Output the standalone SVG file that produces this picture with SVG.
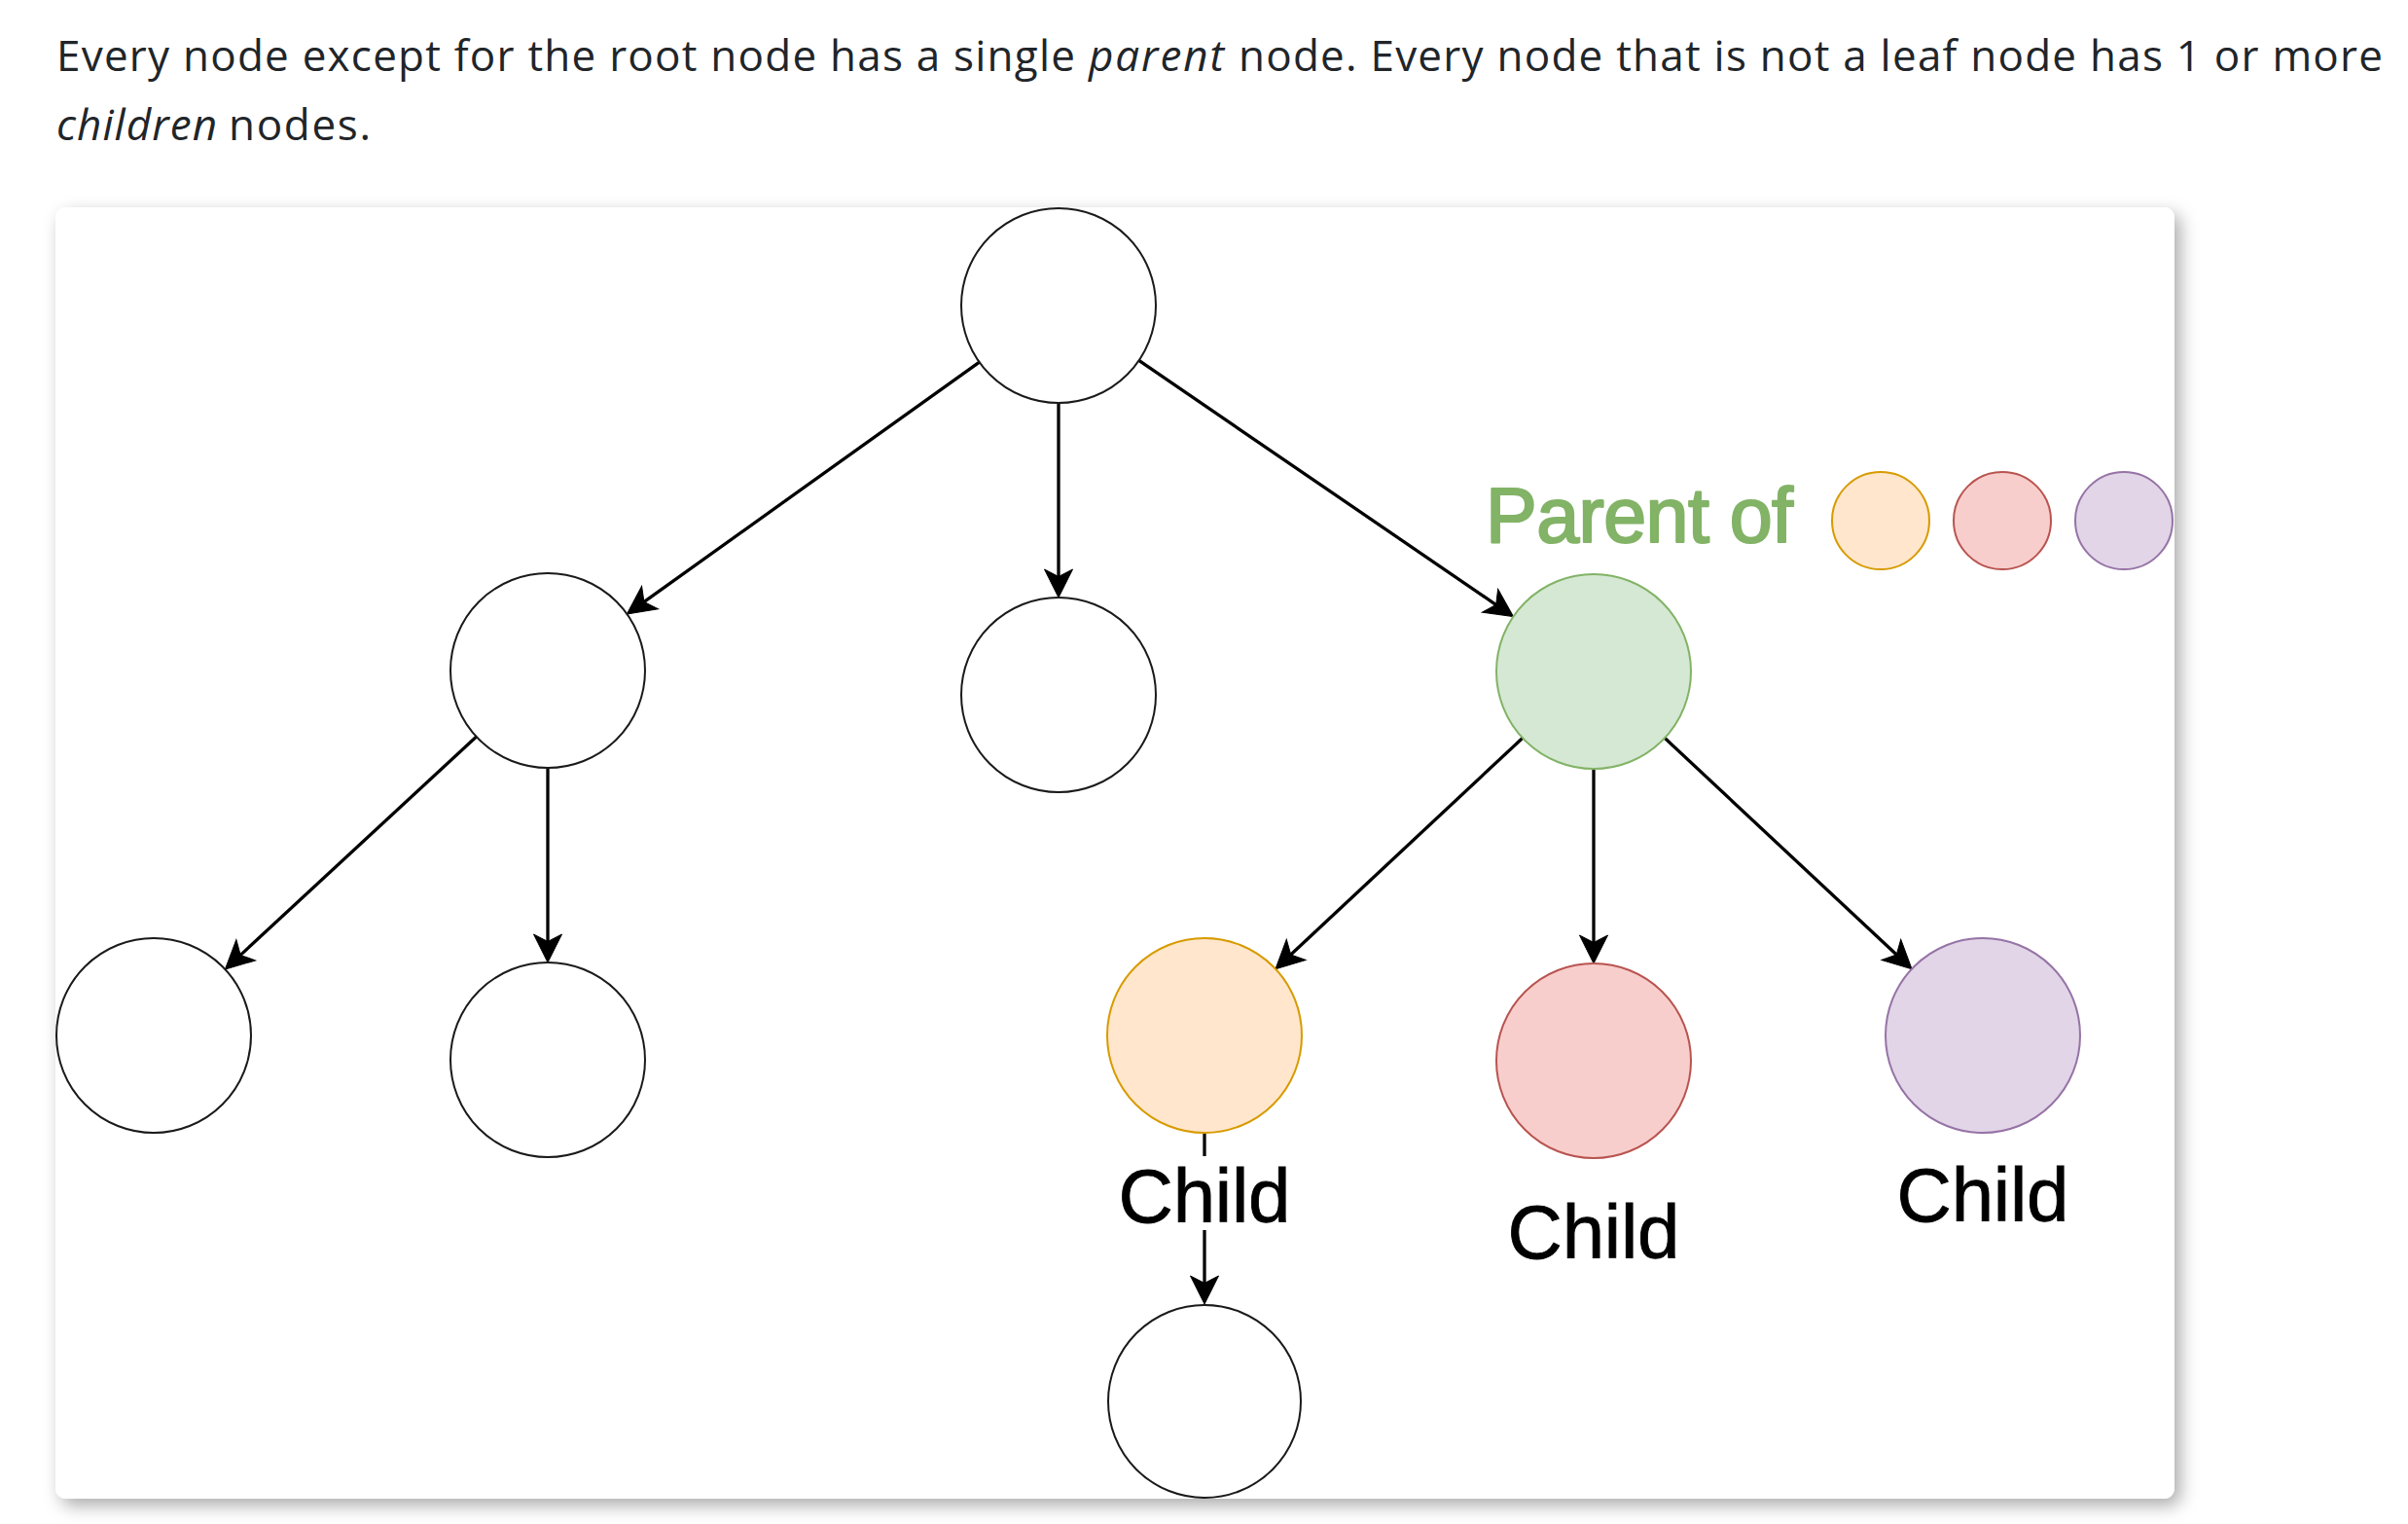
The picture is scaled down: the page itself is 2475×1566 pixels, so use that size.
<svg xmlns="http://www.w3.org/2000/svg" width="2475" height="1566" viewBox="0 0 2475 1566">
  <defs>
    <style>
      .hdr { font-family: "Open Sans", "Noto Sans", "Liberation Sans", sans-serif; font-size: 44px; fill: #212529; }
      .it { font-style: italic; }
      .plain { fill: #ffffff; stroke: #1a1a1a; stroke-width: 2; }
      .edge { fill: none; stroke: #000000; stroke-width: 3.3; marker-end: url(#arrow); }
      .lbl { font-family: "Liberation Sans", Arial, Helvetica, sans-serif; font-size: 78px; fill: #000000; stroke: #000000; stroke-width: 0.8; text-anchor: middle; }
      .parent { font-family: "Liberation Sans", Arial, Helvetica, sans-serif; font-size: 79px; fill: #82b366; stroke: #82b366; stroke-width: 2.2; stroke-linejoin: round; }
      .green { fill: #d5e8d4; stroke: #82b366; stroke-width: 2; }
      .orange { fill: #ffe6cc; stroke: #d79b00; stroke-width: 2; }
      .red { fill: #f8cecc; stroke: #b85450; stroke-width: 2; }
      .purple { fill: #e1d5e7; stroke: #9673a6; stroke-width: 2; }
    </style>
    <marker id="arrow" viewBox="-31 -16 32 32" refX="-20" refY="0" markerWidth="32" markerHeight="32" markerUnits="userSpaceOnUse" orient="auto">
      <path d="M0,0 L-29,-14.5 L-21.5,0 L-29,14.5 Z" fill="#000000" stroke="#000000" stroke-width="1" stroke-linejoin="miter"/>
    </marker>
    <filter id="shadow" x="-5%" y="-5%" width="110%" height="110%">
      <feDropShadow dx="6" dy="7" stdDeviation="9" flood-color="#000000" flood-opacity="0.33"/>
    </filter>
  </defs>

  <rect x="0" y="0" width="2475" height="1566" fill="#ffffff"/>

  <g id="header">
    <text class="hdr" x="58" y="73" textLength="1047" lengthAdjust="spacing">Every node except for the root node has a single</text>
    <text class="hdr it" x="1119" y="73" textLength="139" lengthAdjust="spacing">parent</text>
    <text class="hdr" x="1273" y="73" textLength="1176" lengthAdjust="spacing">node. Every node that is not a leaf node has 1 or more</text>
    <text class="hdr it" x="58" y="144" textLength="165" lengthAdjust="spacing">children</text>
    <text class="hdr" x="235" y="144" textLength="146" lengthAdjust="spacing">nodes.</text>
  </g>

  <g id="card">
    <rect x="57" y="213" width="2178" height="1327" rx="11" ry="11" fill="#ffffff" filter="url(#shadow)"/>
  </g>

  <g id="connectors">
    <line class="edge" x1="1006.6" y1="372.1" x2="660.7" y2="619.3"/>
    <line class="edge" x1="1088" y1="414" x2="1088" y2="594"/>
    <line class="edge" x1="1170.6" y1="370.4" x2="1538.9" y2="622.3"/>
    <line class="edge" x1="489.6" y1="757" x2="246.1" y2="982.4"/>
    <line class="edge" x1="563" y1="789" x2="563" y2="969"/>
    <line class="edge" x1="1565" y1="758.3" x2="1325.6" y2="982"/>
    <line class="edge" x1="1638" y1="790" x2="1638" y2="970"/>
    <line class="edge" x1="1711" y1="758.3" x2="1950.4" y2="982"/>
    <line class="edge" x1="1238" y1="1165" x2="1238" y2="1320"/>
  </g>

  <g id="node-root"><circle class="plain" cx="1088" cy="314" r="100"/></g>
  <g id="node-left"><circle class="plain" cx="563" cy="689" r="100"/></g>
  <g id="node-middle"><circle class="plain" cx="1088" cy="714" r="100"/></g>
  <g id="node-parent"><circle class="green" cx="1638" cy="690" r="100"/></g>
  <g id="node-leaf-1"><circle class="plain" cx="158" cy="1064" r="100"/></g>
  <g id="node-leaf-2"><circle class="plain" cx="563" cy="1089" r="100"/></g>
  <g id="node-child-orange">
    <circle class="orange" cx="1238" cy="1064" r="100"/>
    <rect x="1150" y="1188" width="177" height="76" fill="#ffffff"/>
    <text class="lbl" x="1238" y="1256" textLength="177" lengthAdjust="spacing">Child</text>
  </g>
  <g id="node-child-red">
    <circle class="red" cx="1638" cy="1090" r="100"/>
    <text class="lbl" x="1638" y="1293" textLength="177" lengthAdjust="spacing">Child</text>
  </g>
  <g id="node-child-purple">
    <circle class="purple" cx="2038" cy="1064" r="100"/>
    <text class="lbl" x="2038" y="1255" textLength="177" lengthAdjust="spacing">Child</text>
  </g>
  <g id="node-grandchild"><circle class="plain" cx="1238" cy="1440" r="99"/></g>

  <g id="legend">
    <text class="parent" x="1527" y="557" textLength="316" lengthAdjust="spacing">Parent of</text>
    <circle class="orange" cx="1933" cy="535" r="50"/>
    <circle class="red" cx="2058" cy="535" r="50"/>
    <circle class="purple" cx="2183" cy="535" r="50"/>
  </g>
</svg>
